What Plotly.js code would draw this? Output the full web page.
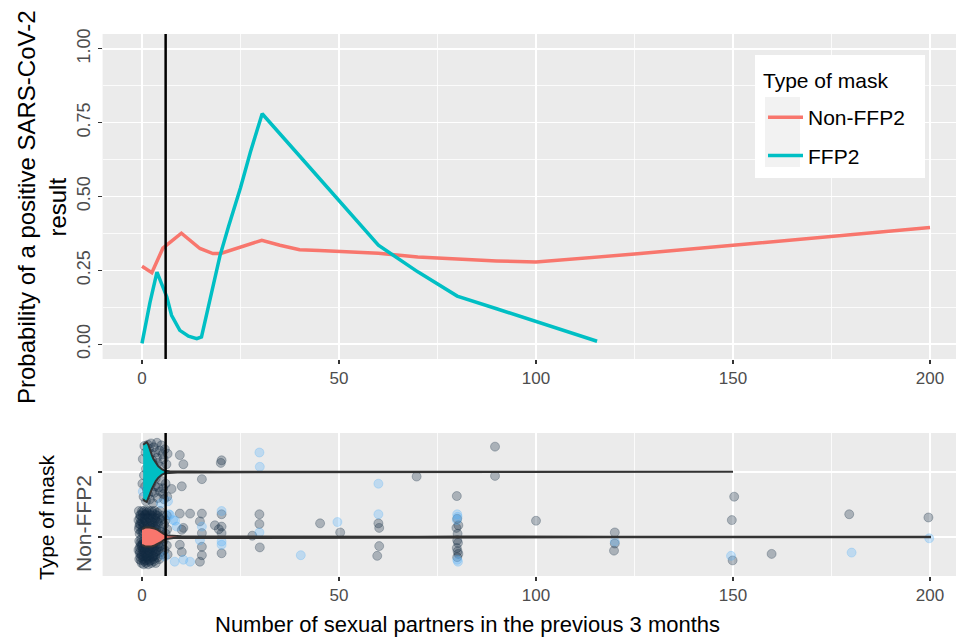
<!DOCTYPE html>
<html><head><meta charset="utf-8">
<script src="https://cdn.plot.ly/plotly-3.0.1.min.js"></script>
<style>html,body{margin:0;padding:0;background:#fff}</style>
</head><body><div id="chart" style="width:956px;height:639px"></div>
<script>
// ---- Top panel: predicted probability curves ----
const partnersNon = [0,2.5,5.3,7.5,10,14.7,18,20,25,30.4,35,40,45,52.8,60,70,80,90,100,125,150,175,200];
const probNon     = [0.264,0.242,0.325,0.35,0.376,0.324,0.307,0.307,0.33,0.352,0.335,0.32,0.317,0.313,0.308,0.295,0.288,0.282,0.278,0.305,0.335,0.365,0.395];
const partnersFfp2 = [0,2,3.8,6.3,7.5,9.6,11.8,13.9,15.1,17,19.8,22,25,27.5,30.5,40,50,60,70,80,90,100,115.5];
const probFfp2     = [0.003,0.14,0.244,0.16,0.098,0.047,0.027,0.019,0.025,0.136,0.30,0.40,0.53,0.65,0.78,0.637,0.486,0.335,0.245,0.163,0.12,0.078,0.01];
const medianPartners = 6;

// ---- Bottom panel: violins (x grid + half width) ----
const ffp2ViolinX    = [0.3,0.8,1.2,1.6,2.0,2.5,2.9,3.5,4.1,5.0,5.8,7,9,12,20,40,80,120,150];
const ffp2ViolinHalf = [0.42,0.45,0.46,0.42,0.34,0.26,0.20,0.14,0.09,0.045,0.02,0.012,0.008,0.006,0.005,0.005,0.005,0.005,0.005];
const nonViolinX     = [0,0.8,1.6,2.4,3.2,4.0,4.8,5.6,6.5,8,10,15,20,30,50,70,80,90,120,200];
const nonViolinHalf  = [0.12,0.145,0.15,0.145,0.13,0.11,0.08,0.045,0.025,0.016,0.011,0.007,0.006,0.006,0.005,0.005,0.008,0.005,0.005,0.005];

// ---- Bottom panel: jittered observations (x = partners, y = jittered group position; 1 = Non-FFP2, 2 = FFP2) ----
const darkX = [150.3,149.7,149.9,159.8,179.5,199.6,89.6,69.7,89.6,79.9,
  80,80.3,79.8,80.1,80,80.2,79.9,80.1,80.3,80,
  100,120,120,119.8,20.2,20,20.2,20.2,20.2,20.2,19.5,
  29.8,29.8,28.0,29.9,45.2,50.3,60,60.2,60.2,59.7,
  9.6,10.5,15.2,10.1,7.5,5.4,9.6,10.1,10.5,9.6,10.1,
  12.2,15.2,14.7,15.2,15.2,15.2,14.7,18.5,
  -0.8,0.5,1.8,3.2,4.6, -0.3,1.2,2.5,3.9,5.3,6.3, -0.9,0.7,2.0,3.3,4.8,6.0,
  -0.4,1.5,2.8,4.1,5.6, -0.8,0.9,2.2,3.6,5.0,6.4, -0.6,0.3,4.4,6.0,
  -0.7,0.4,3.9,5.5, -0.3,0.8,2.1,3.4,4.9,6.3, -0.9,0.2,1.5,2.8,4.2,5.7,
  -0.2,0.9,2.3,3.6,5.0,6.5, -0.7,0.3,1.6,3.0,4.4, -0.1,1.0,2.4,3.5,
  0.1,1.6,2.9, 0.2,1.9,3.1, 0.5,1.9,3.1, 0.4,1.8,2.9,
  0.1,1.3,2.6,3.9, -0.5,0.6,1.9,3.4,4.5, 0.1,1.2,2.6,4.0, -0.2,1.4,2.9,4.9, -0.2,4.8,
  0.2,1.5,2.8,4.2, -0.6,1.0,2.5,3.9, 0.4,1.8,3.3,4.7, -0.4,1.2,2.6,4.0, 0.6,1.9,3.1,
  0.9,-0.6,0.4,-0.6,1.2,0.0,
  -0.5,0.8,2.2,3.5, -0.2,1.0,2.3,3.7, -0.7,0.6,2.0,3.4, 0.2,1.6,3.1, -0.4,0.7,2.4,
  0.0,1.3,2.7,4.4, -0.5,0.7,2.0,3.6, 0.0,1.4,2.8, -0.3,1.0,2.2, 0.0,1.2,2.5, 0.4,1.6,
  1.5,3.0,4.5,2.2,3.8,5.5,2.9,4.6,6.2,5.8,0.6,3.5,5.0,2.4,4.2,6.0,1.2,3.1,5.4,0.4,2.0,4.0,6.4,1.0,2.8,6.5,
  1.8,3.4,2.6,4.0,0.9,1.6,3.3,2.5,4.6,0.8,5.2,
  0.2,1.0,0.5,1.5,2.8,3.8,2.3,4.9,0.1,5.6];
const darkY = [1.62,1.26,0.64,0.74,1.35,1.30,2.39,1.93,1.94,1.63,
  1.28,1.18,1.14,1.05,0.95,0.91,0.83,0.78,0.74,0.69,
  1.25,1.07,0.90,0.79,2.18,2.14,1.35,1.16,1.06,0.75,1.12,
  1.35,1.20,1.02,0.84,1.21,1.07,1.21,1.14,0.86,0.71,
  2.26,2.12,1.89,1.78,1.74,1.75,1.36,1.11,1.14,0.88,0.77,
  1.36,1.36,1.24,1.06,0.85,0.72,0.62,1.18,
  1.40,1.40,1.40,1.40,1.40, 1.33,1.33,1.33,1.33,1.33,1.33, 1.26,1.26,1.26,1.26,1.26,1.26,
  1.19,1.19,1.19,1.19,1.19, 1.12,1.12,1.12,1.12,1.12,1.12, 1.05,1.05,1.05,1.05,
  0.94,0.94,0.94,0.94, 0.87,0.87,0.87,0.87,0.87,0.87, 0.80,0.80,0.80,0.80,0.80,0.80,
  0.73,0.73,0.73,0.73,0.73,0.73, 0.66,0.66,0.66,0.66,0.66, 0.60,0.60,0.60,0.60,
  1.30,1.30,1.30, 1.15,1.15,1.15, 0.83,0.83,0.83, 0.70,0.70,0.70,
  1.37,1.37,1.37,1.37, 1.29,1.29,1.29,1.29,1.29, 1.22,1.22,1.22,1.22, 1.08,1.08,1.08,1.08, 0.97,0.97,
  0.90,0.90,0.90,0.90, 0.84,0.84,0.84,0.84, 0.77,0.77,0.77,0.77, 0.69,0.69,0.69,0.69, 0.63,0.63,0.63,
  1.35,1.20,1.20,0.75,0.75,0.88,
  1.34,1.34,1.34,1.34, 1.24,1.24,1.24,1.24, 1.16,1.16,1.16,1.16, 1.09,1.09,1.09, 0.91,0.91,0.91,
  0.85,0.85,0.85,0.85, 0.78,0.78,0.78,0.78, 0.71,0.71,0.71, 0.64,0.64,0.64, 1.40,1.40,1.40, 0.58,0.58,
  2.42,2.38,2.33,2.28,2.22,2.20,2.12,2.08,2.12,2.35,2.40,1.90,1.86,1.82,1.76,1.82,1.72,1.68,1.66,1.62,1.58,1.60,1.62,1.55,1.52,2.28,
  2.36,2.30,2.18,2.14,2.30,1.65,1.78,1.70,1.70,1.78,2.27,
  2.20,2.05,1.95,1.88,1.96,2.45,2.44,2.41,1.82,1.58];
const lightX = [149.5,180.1,199.8,80,80.1,79.9,80,80.2,120,29.8,29.9,60,20.2,20.2,20.2,29.8,49.6,40.3,60,
  8.4,8.8,10.5,12.2,15.2,14.7,7.1,7.9,6.6,4.8,0.2,6.8,5.8,8.3];
const lightY = [0.71,0.76,0.98,1.35,1.31,1.26,0.65,0.62,0.93,2.30,2.08,1.82,1.40,0.93,0.88,1.07,1.23,0.72,1.35,
  1.25,1.16,0.65,0.62,1.16,0.95,1.34,1.26,1.55,1.52,1.70,1.35,0.70,0.62];

const xTicks = [0,50,100,150,200];
const yTicks = [0,0.25,0.5,0.75,1];
const yTickText = ['0.00','0.25','0.50','0.75','1.00'];

function violinPolygon(xs, hw, c) {
  const pxs = xs.concat(xs.slice().reverse());
  const pys = xs.map((_, i) => c + hw[i]).concat(xs.map((_, i) => c - hw[i]).reverse());
  return {x: pxs, y: pys};
}
const vF = violinPolygon(ffp2ViolinX, ffp2ViolinHalf, 2);
const vN = violinPolygon(nonViolinX, nonViolinHalf, 1);

const RED = '#F8766D', TEAL = '#00BFC4';
const traces = [
  {x: partnersNon, y: probNon, type: 'scatter', mode: 'lines', name: 'Non-FFP2', legendgroup: 'a',
   line: {color: RED, width: 3.5}, xaxis: 'x', yaxis: 'y'},
  {x: partnersFfp2, y: probFfp2, type: 'scatter', mode: 'lines', name: 'FFP2', legendgroup: 'b',
   line: {color: TEAL, width: 3.5}, xaxis: 'x', yaxis: 'y'},
  {x: darkX, y: darkY, type: 'scatter', mode: 'markers', showlegend: false, xaxis: 'x2', yaxis: 'y2',
   marker: {size: 9, color: 'rgba(19,43,67,0.3)', line: {width: 0.8, color: 'rgba(19,43,67,0.35)'}}},
  {x: lightX, y: lightY, type: 'scatter', mode: 'markers', showlegend: false, xaxis: 'x2', yaxis: 'y2',
   marker: {size: 9, color: 'rgba(86,177,247,0.3)', line: {width: 0.8, color: 'rgba(86,177,247,0.35)'}}},
  {x: vF.x, y: vF.y, type: 'scatter', mode: 'lines', fill: 'toself', fillcolor: TEAL, showlegend: false,
   line: {color: '#333333', width: 2}, xaxis: 'x2', yaxis: 'y2'},
  {x: vN.x, y: vN.y, type: 'scatter', mode: 'lines', fill: 'toself', fillcolor: RED, showlegend: false,
   line: {color: '#333333', width: 2}, xaxis: 'x2', yaxis: 'y2'}
];

const W = 956, H = 639;
const px = v => v / W, py = v => 1 - v / H;
const tickFont = {size: 17, color: '#4D4D4D'};
const xCommon = {
  range: [-10, 206.6], tickvals: xTicks, ticks: 'outside', ticklen: 4, tickwidth: 1.2, tickcolor: '#333333',
  tickfont: tickFont, showgrid: true, gridcolor: '#FFFFFF', gridwidth: 1.6, zeroline: false, showline: false,
  minor: {dtick: 25, tick0: 0, showgrid: true, gridcolor: '#FFFFFF', gridwidth: 0.8, ticks: ''},
  domain: [px(102.6), 1], fixedrange: true
};

const layout = {
  width: W, height: H, margin: {l: 0, r: 0, t: 0, b: 0},
  paper_bgcolor: '#FFFFFF', plot_bgcolor: '#EBEBEB',
  font: {family: 'Liberation Sans, Arial, sans-serif', color: '#000000'},
  xaxis: Object.assign({}, xCommon, {anchor: 'y'}),
  yaxis: {domain: [py(359), py(34)], range: [-0.05, 1.05], tickvals: yTicks, ticktext: yTickText, tickangle: -90,
    ticks: 'outside', ticklen: 4, tickwidth: 1.2, tickcolor: '#333333', tickfont: {size: 18, color: '#4D4D4D'},
    showgrid: true, gridcolor: '#FFFFFF', gridwidth: 1.6, zeroline: false, anchor: 'x',
    minor: {dtick: 0.125, tick0: 0, showgrid: true, gridcolor: '#FFFFFF', gridwidth: 0.8, ticks: ''}},
  xaxis2: Object.assign({}, xCommon, {anchor: 'y2'}),
  yaxis2: {domain: [py(576), py(433)], range: [0.4, 2.6], tickvals: [1, 2], ticktext: ['', ''],
    ticks: 'outside', ticklen: 4, tickwidth: 1.2, tickcolor: '#333333', showgrid: true, gridcolor: '#FFFFFF',
    gridwidth: 1.6, zeroline: false, anchor: 'x2'},
  showlegend: true,
  legend: {x: px(763), y: py(97), xanchor: 'left', yanchor: 'top', bgcolor: 'rgba(0,0,0,0)',
    font: {size: 21, color: '#000000'},
    traceorder: 'grouped', tracegroupgap: 8, itemwidth: 35},
  shapes: [
    {type: 'line', xref: 'x', yref: 'y domain', x0: medianPartners, x1: medianPartners, y0: 0, y1: 1,
     line: {color: '#000000', width: 2.5}, layer: 'above'},
    {type: 'line', xref: 'x2', yref: 'y2 domain', x0: medianPartners, x1: medianPartners, y0: 0, y1: 1,
     line: {color: '#000000', width: 2.5}, layer: 'above'},
    {type: 'rect', xref: 'paper', yref: 'paper', x0: px(755), x1: px(925), y0: py(178), y1: py(55),
     fillcolor: '#FFFFFF', line: {width: 0}, layer: 'above'},
    {type: 'rect', xref: 'paper', yref: 'paper', x0: px(765), x1: px(800), y0: py(167), y1: py(97),
     fillcolor: '#F2F2F2', line: {width: 0}, layer: 'above'}
  ],
  annotations: [
    {text: 'Type of mask', xref: 'paper', yref: 'paper', x: px(761), y: py(80), xanchor: 'left', yanchor: 'middle',
     showarrow: false, font: {size: 21, color: '#000000'}},
    {text: 'Probability of a positive SARS-CoV-2<br>result', xref: 'paper', yref: 'paper', x: px(42), y: py(207),
     textangle: -90, showarrow: false, font: {size: 24, color: '#000000'}, xanchor: 'center', yanchor: 'middle'},
    {text: 'Type of mask', xref: 'paper', yref: 'paper', x: px(46), y: py(518), textangle: -90, showarrow: false,
     xanchor: 'center', yanchor: 'middle', font: {size: 21, color: '#000000'}},
    {text: 'Non-FFP2', xref: 'paper', yref: 'paper', x: px(83), y: py(524), textangle: -90, showarrow: false,
     xanchor: 'center', yanchor: 'middle', font: {size: 21, color: '#4D4D4D'}},
    {text: 'Number of sexual partners in the previous 3 months', xref: 'paper', yref: 'paper', x: px(467), y: py(624),
     xanchor: 'center', yanchor: 'middle', showarrow: false, font: {size: 22, color: '#000000'}}
  ]
};

Plotly.newPlot('chart', traces, layout, {displayModeBar: false, staticPlot: true});
</script></body></html>
